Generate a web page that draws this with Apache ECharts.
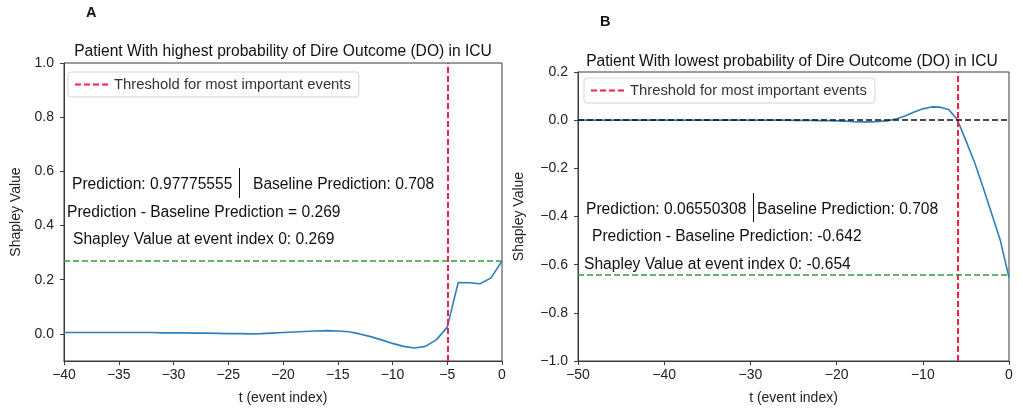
<!DOCTYPE html>
<html>
<head>
<meta charset="utf-8">
<script src="https://cdn.jsdelivr.net/npm/echarts@6/dist/echarts.min.js"></script>
<style>
  html, body { margin: 0; padding: 0; background: #fff; }
  #chart { width: 1023px; height: 410px; }
</style>
</head>
<body>
<div id="chart"></div>
<script>
// Panel A: patient with highest probability of dire outcome
const tHigh = [-40, -39, -38, -37, -36, -35, -34, -33, -32, -31, -30,
               -29, -28, -27, -26, -25, -24, -23, -22, -21, -20,
               -19, -18, -17, -16, -15, -14, -13, -12, -11, -10,
               -9, -8, -7, -6, -5, -4, -3, -2, -1, 0];
const shapHigh = [0.005, 0.005, 0.005, 0.005, 0.005, 0.005, 0.005, 0.005, 0.005, 0.004, 0.004,
                  0.004, 0.003, 0.003, 0.002, 0.001, 0.001, 0.000, 0.001, 0.003, 0.005,
                  0.007, 0.009, 0.011, 0.012, 0.011, 0.008, 0.000, -0.010, -0.022, -0.035,
                  -0.046, -0.052, -0.046, -0.022, 0.025, 0.190, 0.189, 0.185, 0.207, 0.269];
const thresholdHigh = -5;
const deltaHigh = 0.269;

// Panel B: patient with lowest probability of dire outcome
const tLow = [-50, -49, -48, -47, -46, -45, -44, -43, -42, -41, -40,
              -39, -38, -37, -36, -35, -34, -33, -32, -31, -30,
              -29, -28, -27, -26, -25, -24, -23, -22, -21, -20,
              -19, -18, -17, -16, -15, -14, -13, -12, -11, -10,
              -9, -8, -7, -6, -5, -4, -3, -2, -1, 0];
const shapLow = [0.000, 0.000, 0.000, 0.000, 0.000, 0.000, 0.000, 0.000, 0.000, 0.000, 0.000,
                 0.000, 0.000, 0.000, 0.000, 0.000, 0.000, 0.000, 0.000, 0.000, 0.000,
                 0.000, 0.000, 0.000, 0.000, -0.001, -0.001, -0.001, -0.002, -0.002, -0.003,
                 -0.004, -0.006, -0.007, -0.007, -0.005, -0.002, 0.006, 0.018, 0.034, 0.047,
                 0.055, 0.054, 0.044, 0.003, -0.085, -0.175, -0.280, -0.390, -0.500, -0.654];
const thresholdLow = -6;
const deltaLow = -0.642;
const zeroLevel = 0;

const yTicksHigh = [0, 0.2, 0.4, 0.6, 0.8, 1.0];
const thrName = 'Threshold for most important events';
const xLabel = 't (event index)';
const yLabel = 'Shapley Value';

const FONT = '"Liberation Sans", Arial, sans-serif';
const AXIS_COLOR = '#3a3a3a';
const CURVE = '#2f7fbe';
const RED = '#ff1f45';
const GREEN = '#2f9a2f';

const pair = (xs, ys) => xs.map((x, i) => [x, ys[i]]);
const minus = v => String(v).replace('-', '\u2212');

function xAxisCfg(gi, min, max, interval) {
  return {
    gridIndex: gi, type: 'value', min, max, interval,
    name: xLabel, nameLocation: 'middle', nameGap: 30,
    nameTextStyle: { fontFamily: FONT, fontSize: 14, color: '#222' },
    axisLine: { show: true, onZero: false, lineStyle: { color: AXIS_COLOR } },
    axisTick: { show: true, inside: false, length: 4, lineStyle: { color: AXIS_COLOR } },
    axisLabel: { fontFamily: FONT, fontSize: 14, color: '#222', margin: 7, formatter: v => minus(v) },
    splitLine: { show: false }
  };
}
const yLabelStyle = { fontFamily: FONT, fontSize: 14, color: '#222', margin: 10, formatter: v => minus(v.toFixed(1)) };
function yAxisCfg(gi, extra, nameGap) {
  return Object.assign({
    gridIndex: gi, type: 'value',
    name: yLabel, nameLocation: 'middle', nameGap,
    nameTextStyle: { fontFamily: FONT, fontSize: 14, color: '#222' },
    axisLine: { show: true, onZero: false, lineStyle: { color: AXIS_COLOR } },
    axisTick: { show: true, inside: false, length: 4, lineStyle: { color: AXIS_COLOR } },
    axisLabel: yLabelStyle,
    splitLine: { show: false }
  }, extra);
}

const legendCfg = (left, top) => ({
  data: [thrName], left, top, orient: 'horizontal',
  itemWidth: 34, itemHeight: 12, padding: [5, 8, 5, 6],
  borderColor: '#d4d4d4', borderWidth: 1, borderRadius: 3,
  backgroundColor: 'rgba(255,255,255,0.85)',
  itemStyle: { opacity: 0 },
  textStyle: { fontFamily: FONT, fontSize: 14.8, color: '#333' },
  selectedMode: false
});

const thrLine = { color: RED, width: 2, type: [6, 3] };
const dashed = color => ({ color, width: 1.6, type: [6, 3] });

const txt = (text, x, y, size, extra) => ({
  type: 'text', x, y, silent: true,
  style: Object.assign({ text, fill: '#111', fontFamily: FONT, fontSize: size, verticalAlign: 'middle' }, extra || {})
});
const bar = (x, y1, y2) => ({
  type: 'line', silent: true, shape: { x1: x, y1, x2: x, y2 },
  style: { stroke: '#111', lineWidth: 1 }
});

const option = {
  animation: false,
  backgroundColor: '#fff',
  grid: [
    { left: 64, top: 63, width: 438, height: 299, show: true, borderColor: AXIS_COLOR, borderWidth: 1, backgroundColor: 'transparent' },
    { left: 578, top: 72, width: 431, height: 295, show: true, borderColor: AXIS_COLOR, borderWidth: 1, backgroundColor: 'transparent' }
  ],
  legend: [legendCfg(68, 72), legendCfg(584, 78)],
  xAxis: [xAxisCfg(0, -40, 0, 5), xAxisCfg(1, -50, 0, 10)],
  yAxis: [
    yAxisCfg(0, { min: -0.1, max: 1.0,
      axisLabel: Object.assign({ customValues: yTicksHigh }, yLabelStyle),
      axisTick: { show: true, length: 4, customValues: yTicksHigh, lineStyle: { color: AXIS_COLOR } } }, 41),
    yAxisCfg(1, { min: -1.0, max: 0.2, interval: 0.2 }, 52)
  ],
  series: [
    {
      type: 'line', name: 'shapHigh', xAxisIndex: 0, yAxisIndex: 0,
      data: pair(tHigh, shapHigh), showSymbol: false, symbol: 'none',
      lineStyle: { color: CURVE, width: 1.6 }, z: 2,
      markLine: { silent: true, symbol: 'none', label: { show: false },
        data: [{ yAxis: deltaHigh, lineStyle: dashed(GREEN) }] }
    },
    {
      type: 'line', name: thrName, xAxisIndex: 0, yAxisIndex: 0,
      data: [], showSymbol: false, symbol: 'none', lineStyle: thrLine,
      itemStyle: { color: RED }, z: 3,
      markLine: { silent: true, symbol: 'none', label: { show: false }, z: 3,
        data: [{ xAxis: thresholdHigh, lineStyle: thrLine }] }
    },
    {
      type: 'line', name: 'shapLow', xAxisIndex: 1, yAxisIndex: 1,
      data: pair(tLow, shapLow), showSymbol: false, symbol: 'none',
      lineStyle: { color: CURVE, width: 1.6 }, z: 2,
      markLine: { silent: true, symbol: 'none', label: { show: false },
        data: [{ yAxis: deltaLow, lineStyle: dashed(GREEN) },
               { yAxis: zeroLevel, lineStyle: dashed('#111') }] }
    },
    {
      type: 'line', name: thrName, xAxisIndex: 1, yAxisIndex: 1,
      data: [], showSymbol: false, symbol: 'none', lineStyle: thrLine,
      itemStyle: { color: RED }, z: 3,
      markLine: { silent: true, symbol: 'none', label: { show: false }, z: 3,
        data: [{ xAxis: thresholdLow, lineStyle: thrLine }] }
    }
  ],
  graphic: [
    txt('A', 86, 13, 14.5, { fontWeight: 'bold' }),
    txt('B', 600, 22, 14.5, { fontWeight: 'bold' }),
    txt('Patient With highest probability of Dire Outcome (DO) in ICU', 283, 52, 15.6, { align: 'center' }),
    txt('Patient With lowest probability of Dire Outcome (DO) in ICU', 792, 62, 15.6, { align: 'center' }),

    txt('Prediction: 0.97775555', 72, 185, 15.6),
    bar(239.5, 168, 198),
    txt('Baseline Prediction: 0.708', 253, 185, 15.6),
    txt('Prediction - Baseline Prediction = 0.269', 67, 213, 15.6),
    txt('Shapley Value at event index 0: 0.269', 73, 240, 15.6),

    txt('Prediction: 0.06550308', 586, 210, 15.6),
    bar(753.5, 193, 222),
    txt('Baseline Prediction: 0.708', 757, 210, 15.6),
    txt('Prediction - Baseline Prediction: -0.642', 592, 237, 15.6),
    txt('Shapley Value at event index 0: -0.654', 584, 265, 15.6)
  ]
};

const chart = echarts.init(document.getElementById('chart'), null, { renderer: 'canvas' });
chart.setOption(option);
</script>
</body>
</html>
